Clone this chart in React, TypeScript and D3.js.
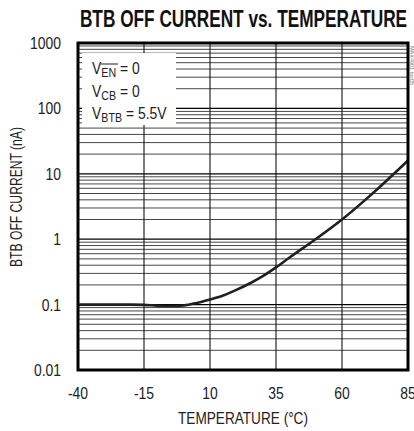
import React from 'react';
import * as d3 from 'd3';

// temperature (°C) and BTB off current (nA)
const temps = [-40, -30, -20, -15, -10, -5, 0, 5, 10, 15, 20, 25, 30, 35, 40, 50, 60, 70, 85];
const currents = [0.1, 0.1, 0.1, 0.099, 0.096, 0.095, 0.097, 0.106, 0.12, 0.138, 0.168, 0.21, 0.272, 0.37, 0.52, 1.0, 2.0, 4.4, 16];

const xTicks = [-40, -15, 10, 35, 60, 85];
const yTicks = [0.01, 0.1, 1, 10, 100, 1000];
const yTickLabels = ['0.01', '0.1', '1', '10', '100', '1000'];

const W = 414;
const H = 431;
const M = { left: 78, right: 408, top: 43, bottom: 370 };
const FONT = '"Liberation Sans", Arial, sans-serif';
const SX = 0.82; // condensed look

type CTextProps = {
  x: number;
  y: number;
  anchor?: 'start' | 'middle' | 'end';
  size?: number;
  bold?: boolean;
  rotate?: number;
  fill?: string;
  sx?: number;
  len?: number;
  children: React.ReactNode;
};

// text squeezed horizontally to mimic the condensed face of the original
const CText: React.FC<CTextProps> = ({ x, y, anchor = 'start', size = 16, bold, rotate = 0, fill = '#222', sx = SX, len, children }) => (
  <g transform={`translate(${x},${y}) rotate(${rotate}) scale(${len ? 1 : sx},1)`}>
    <text x={0} y={0} textAnchor={anchor} fontFamily={FONT} fontSize={size} fontWeight={bold ? 'bold' : 'normal'} fill={fill}
      textLength={len} lengthAdjust={len ? 'spacingAndGlyphs' : undefined}>
      {children}
    </text>
  </g>
);

const App: React.FC = () => {
  const x = d3.scaleLinear().domain([-40, 85]).range([M.left, M.right]);
  const y = d3.scaleLog().domain([0.01, 1000]).range([M.bottom, M.top]);

  // minor log gridlines 2..9 in each decade
  const minor: number[] = [];
  for (let dec = 0.01; dec < 999; dec *= 10) {
    for (let k = 2; k <= 9; k++) minor.push(dec * k);
  }

  const line = d3.line<number>()
    .x((_, i) => x(temps[i]))
    .y(d => y(d))
    .curve(d3.curveMonotoneX);

  const legendBox = { x0: 82, x1: 176, y0: 53, y1: 125 };

  return (
    <svg width={W} height={H} style={{ position: 'absolute', left: 0, top: 0, background: 'white' }}>
      <CText x={243.5} y={27} anchor="middle" size={23} bold fill="#111" sx={0.75}>
        BTB OFF CURRENT vs. TEMPERATURE
      </CText>

      {/* minor horizontal grid */}
      {minor.map((v, i) => (
        <line key={'mn' + i} x1={M.left} x2={M.right} y1={y(v)} y2={y(v)} stroke="#333" strokeWidth={0.9} />
      ))}
      {/* major horizontal grid */}
      {yTicks.map((v, i) => (
        <line key={'mj' + i} x1={M.left} x2={M.right} y1={y(v)} y2={y(v)} stroke="#000" strokeWidth={1.2} />
      ))}
      {/* vertical grid */}
      {xTicks.map((v, i) => (
        <line key={'vx' + i} x1={x(v)} x2={x(v)} y1={M.top} y2={M.bottom} stroke="#111" strokeWidth={1.1} />
      ))}

      {/* legend box */}
      <rect x={legendBox.x0} y={legendBox.y0} width={legendBox.x1 - legendBox.x0} height={legendBox.y1 - legendBox.y0} fill="white" />
      <CText x={92} y={74} size={17}>
        V<tspan fontSize={13} dy={3}>EN</tspan><tspan dy={-3}> = 0</tspan>
      </CText>
      <line x1={101} x2={118} y1={64} y2={64} stroke="#222" strokeWidth={1} />
      <CText x={92} y={97} size={17}>
        V<tspan fontSize={13} dy={3}>CB</tspan><tspan dy={-3}> = 0</tspan>
      </CText>
      <CText x={92} y={119} size={17}>
        V<tspan fontSize={13} dy={3}>BTB</tspan><tspan dy={-3}> = 5.5V</tspan>
      </CText>

      {/* data curve */}
      <path d={line(currents) || ''} fill="none" stroke="#231f20" strokeWidth={2.6} />

      {/* frame */}
      <rect x={M.left} y={M.top} width={M.right - M.left} height={M.bottom - M.top} fill="none" stroke="#000" strokeWidth={3} />

      {/* y tick labels */}
      {yTicks.map((v, i) => (
        <CText key={'yl' + i} x={61} y={y(v) + 6} anchor="end" size={17}>
          {yTickLabels[i]}
        </CText>
      ))}
      {/* x tick labels */}
      {xTicks.map((v, i) => (
        <CText key={'xl' + i} x={x(v)} y={399} anchor="middle" size={17}>
          {v < 0 ? '-' + Math.abs(v) : String(v)}
        </CText>
      ))}

      <CText x={243} y={424} anchor="middle" size={17} len={130}>
        TEMPERATURE (°C)
      </CText>
      <CText x={22} y={197} anchor="middle" size={17} rotate={-90} len={140}>
        BTB OFF CURRENT (nA)
      </CText>
      <text transform="translate(410, 46) rotate(90)" fontFamily={FONT} fontSize={5.5} fill="#777">
        MAX4901 toc05
      </text>
    </svg>
  );
};

export default App;
